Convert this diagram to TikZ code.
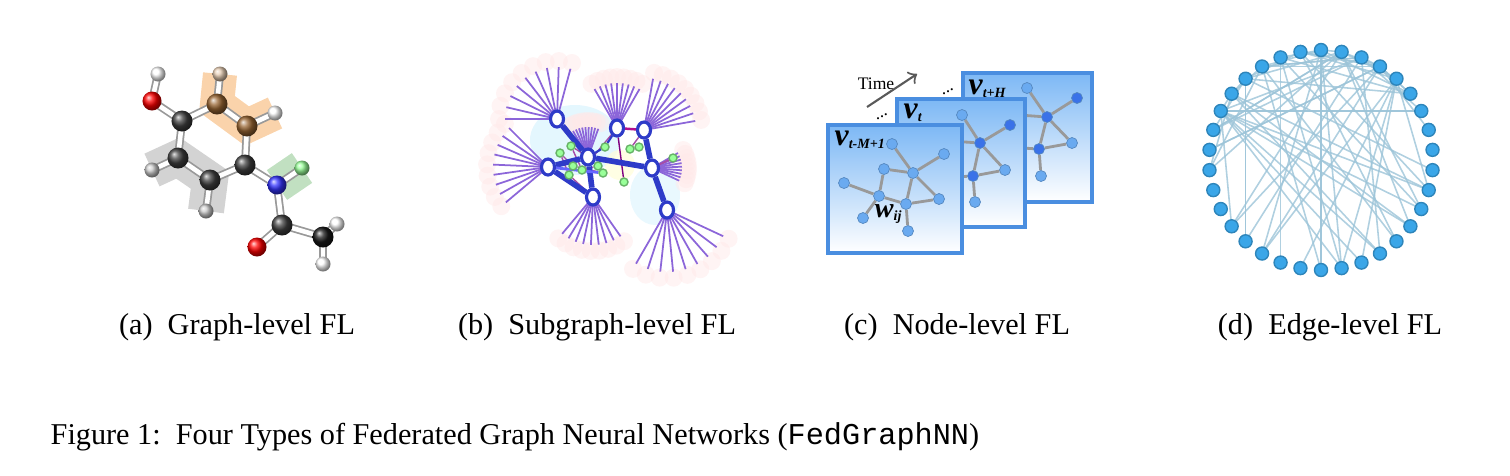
\documentclass[tikz,border=0pt]{standalone}
\usepackage{fontspec}
\setmainfont{Liberation Serif}
\setmonofont{Liberation Mono}
\usetikzlibrary{shapes.geometric, positioning, calc, backgrounds}

\definecolor{hubblue}{HTML}{2E3BC8}
\definecolor{framebl}{HTML}{4A8EE0}
\definecolor{frametop}{HTML}{7DB8F5}
\definecolor{gnode}{HTML}{6AAAF0}
\definecolor{gnodedk}{HTML}{3A72E8}
\definecolor{ringnode}{HTML}{3AA6E8}
\definecolor{ringedge}{HTML}{9CC4D8}

\tikzset{
  atom/.style={circle, inner sep=0pt, minimum size=0.21cm},
  carbon/.style={atom, ball color=black!75},
  hydro/.style={atom, minimum size=0.15cm, ball color=white},
  oxy/.style={atom, minimum size=0.19cm, ball color=red},
  nitro/.style={atom, minimum size=0.19cm, ball color=blue!80},
  brownatom/.style={atom, ball color=brown!80!black},
  bond/.style={double=white, double distance=1.3pt, draw=black!40, line width=0.5pt},
  hub/.style={ellipse, draw=hubblue, fill=white, line width=0.9pt, inner sep=0pt,
    minimum width=0.13cm, minimum height=0.16cm},
  gsmall/.style={circle, draw=green!50!black!60, fill=green!40, inner sep=0pt, minimum size=0.08cm},
  hubedge/.style={draw=hubblue, line width=1.6pt},
  spoke/.style={draw=blue!50!violet!60, line width=0.5pt},
  frame/.style={draw=framebl, line width=1pt, top color=frametop, bottom color=white},
  gn/.style={circle, fill=gnode, draw=gnode!80!black, line width=0.2pt, inner sep=0pt, minimum size=0.11cm},
  gnd/.style={gn, fill=gnodedk},
  gedge/.style={draw=gray!80, line width=0.8pt},
  rnode/.style={circle, fill=ringnode, draw=ringnode!80!black, line width=0.4pt, inner sep=0pt, minimum size=0.13cm},
  redge/.style={draw=ringedge, line width=0.45pt, opacity=0.8},
  subcap/.style={font=\fontsize{8.6}{10}\selectfont, inner sep=0pt}
}

\begin{document}
\begin{tikzpicture}[x=0.01cm, y=-0.01cm]
\useasboundingbox (0,0) rectangle (1510,475);

% (a) molecule
\node[hydro] (h1) at (158,74) {};
\node[oxy] (o1) at (152,101) {};
\node[carbon] (c1) at (182,121) {};
\node[brownatom] (b1) at (217,104) {};
\node[hydro, ball color=brown!40] (hb1) at (220,74) {};
\node[brownatom] (b2) at (247,126) {};
\node[hydro] (hb2) at (275,113) {};
\node[carbon] (c6) at (245,165) {};
\node[carbon] (c2) at (178,158) {};
\node[hydro, ball color=gray!40] (hl) at (152,170) {};
\node[carbon] (c3) at (210,180) {};
\node[hydro, ball color=gray!40] (hd) at (206,211) {};
\node[nitro] (n1) at (277,185) {};
\node[hydro, ball color=green!40] (hn) at (302,168) {};
\node[carbon] (c4) at (282,225) {};
\node[oxy] (o2) at (257,247) {};
\node[carbon, ball color=black!90] (c5) at (323,237) {};
\node[hydro] (h5a) at (337,224) {};
\node[hydro] (h5b) at (323,264) {};
\begin{scope}[on background layer]
  \begin{scope}[transparency group, opacity=0.35, line cap=round, line join=round]
    \draw[orange!80!brown, line width=0.34cm] (hb1.center) -- (b1.center) -- (b2.center) -- (hb2.center);
    \draw[gray, line width=0.36cm] (hl.center) -- (c2.center) -- (c3.center) -- (hd.center);
    \draw[green!50!black!70, line width=0.36cm] (n1.center) -- (hn.center);
  \end{scope}
  \foreach \u/\v in {h1/o1, o1/c1, c1/b1, b1/hb1, b1/b2, b2/hb2, b2/c6, c1/c2, c2/hl,
    c2/c3, c3/hd, c3/c6, c6/n1, n1/hn, n1/c4, c4/o2, c4/c5, c5/h5a, c5/h5b}
    \draw[bond] (\u.center) -- (\v.center);
\end{scope}

% (b) subgraph network
\node[hub] (s0) at (557,119) {};
\node[hub] (s1) at (548,167) {};
\node[hub] (s2) at (588,157) {};
\node[hub] (s3) at (593,197) {};
\node[hub] (s4) at (617,128) {};
\node[hub] (s5) at (644,130) {};
\node[hub] (s6) at (652,168) {};
\node[hub] (s7) at (667,210) {};
\foreach \x/\y [count=\i] in {560/153, 571/146, 573/166, 582/170, 569/175, 603/173,
    598/166, 605/147, 630/149, 639/147, 624/182, 673/158}
  \node[gsmall] (g\i) at (\x,\y) {};
\begin{scope}[on background layer]
  \fill[cyan!15, opacity=0.7] (575,140) ellipse (45 and 35);
  \fill[cyan!12, opacity=0.7] (655,195) ellipse (25 and 30);
  \fill[yellow!15, opacity=0.7] (620,165) ellipse (15 and 15);
  \foreach \h/\a/\b/\len in {s0/180/285/52, s1/140/225/55, s3/55/130/48, s4/240/300/45,
      s5/280/350/52, s6/-30/25/30, s7/25/120/62, s2/240/290/30} {
    \foreach \t in {0,...,8} {
      \pgfmathsetmacro\ang{\a+(\b-\a)*\t/8}
      \fill[pink!35, opacity=0.5] ($(\h.center)+(\ang:\len+6)$) circle (9);
    }
  }
  \foreach \h/\a/\b/\len in {s0/180/285/52, s1/140/225/55, s3/55/130/48, s4/240/300/45,
      s5/280/350/52, s6/-30/25/30, s7/25/120/62, s2/240/290/30} {
    \foreach \t in {0,...,8} {
      \pgfmathsetmacro\ang{\a+(\b-\a)*\t/8}
      \draw[spoke] (\h.center) -- ++(\ang:\len);
    }
  }
  \foreach \u/\v in {g1/g3, g2/g4, g1/g5, g3/g6, g4/g7, g2/s2, g5/s3, g9/g10, g9/s5, g4/s4}
    \draw[draw=violet!70, line width=0.4pt] (\u) -- (\v);
  \draw[draw=magenta!70!blue, line width=0.7pt] (s4) -- (s5);
  \draw[draw=violet, line width=0.4pt] (s4) -- (g11);
  \foreach \u/\v in {s0/s2, s1/s2, s1/s3, s2/s3, s2/s6, s5/s6, s6/s7}
    \draw[hubedge] (\u) -- (\v);
  \draw[draw=hubblue, line width=0.6pt] (s2) -- (g8) -- (s4);
  \draw[draw=blue!60, line width=0.8pt] (s1) -- (g6);
  \draw[draw=violet!70, line width=0.5pt] (s6) -- (g12);
\end{scope}

% (c) temporal node-level graphs
\draw[frame] (963,73) rectangle (1092,202);
\node[font=\itshape\bfseries\fontsize{9}{9}\selectfont, anchor=west, inner sep=0pt] (lb) at (968,89)
  {v\textsubscript{\fontsize{4}{4}\selectfont t+H}};
\node[gn] (k0) at (1027,88) {};
\node[gnd] (k1) at (1077,98) {};
\node[gnd] (k2) at (1047,117) {};
\node[gn] (k3) at (1072,143) {};
\node[gnd] (k4) at (1039,149) {};
\node[gn] (k5) at (1041,176) {};
\coordinate (k6) at (1005,114);
\coordinate (k7) at (1005,147);
\foreach \u/\v in {k0/k2, k1/k2, k2/k4, k2/k3, k4/k3, k4/k5, k6/k2, k7/k4}
  \draw[gedge] (\u) -- (\v);
\draw[frame] (897,99) rectangle (1025,227);
\node[font=\itshape\bfseries\fontsize{9}{9}\selectfont, anchor=west, inner sep=0pt] (lm) at (903,113)
  {v\textsubscript{\fontsize{4}{4}\selectfont t}};
\node[gn] (m0) at (962,115) {};
\node[gnd] (m1) at (1010,125) {};
\node[gnd] (m2) at (980,143) {};
\node[gn] (m3) at (1005,170) {};
\node[gnd] (m4) at (973,176) {};
\node[gn] (m5) at (975,202) {};
\coordinate (m6) at (935,140);
\coordinate (m7) at (935,178);
\foreach \u/\v in {m0/m2, m1/m2, m2/m4, m2/m3, m4/m3, m4/m5, m6/m2, m7/m4}
  \draw[gedge] (\u) -- (\v);
\draw[frame] (828,125) rectangle (962,253);
\node[font=\itshape\bfseries\fontsize{9}{9}\selectfont, anchor=west, inner sep=0pt] (lf) at (834,140)
  {v\textsubscript{\fontsize{4}{4}\selectfont t-M+1}};
\node[gn] (f0) at (892,144) {};
\node[gn] (f1) at (944,154) {};
\node[gn] (f2) at (884,169) {};
\node[gn] (f3) at (913,173) {};
\node[gn] (f4) at (844,183) {};
\node[gn] (f5) at (879,196) {};
\node[gn] (f6) at (906,204) {};
\node[gn] (f7) at (939,199) {};
\node[gn] (f8) at (863,218) {};
\node[gn] (f9) at (908,231) {};
\foreach \u/\v in {f0/f3, f1/f3, f2/f3, f2/f5, f4/f5, f5/f6, f3/f6, f3/f7, f7/f6, f8/f5, f6/f9}
  \draw[gedge] (\u) -- (\v);
\node[font=\itshape\bfseries\fontsize{8}{8}\selectfont, inner sep=0pt] (wij) at (889,214)
  {w\textsubscript{\fontsize{4}{4}\selectfont ij}};
\coordinate (ta) at (867,107);
\coordinate (tb) at (917,74);
\draw[->, gray!70!black, line width=0.6pt] (ta) -- (tb);
\node[font=\fontsize{5}{5}\selectfont, inner sep=0pt] (tm) at (876,84) {Time};
\node[font=\fontsize{5}{5}\selectfont, inner sep=0pt, rotate=30] (dt1) at (882,117) {...};
\node[font=\fontsize{5}{5}\selectfont, inner sep=0pt, rotate=30] (dt2) at (948,92) {...};

% (d) edge-level ring
\foreach \i in {0,...,33}
  \node[rnode] (d\i) at ($(1321,160)+({270+\i*360/34}:112 and 110)$) {};
\pgfmathsetseed{11}
\begin{scope}[on background layer]
  \foreach \k in {1,...,75} {
    \pgfmathtruncatemacro\a{mod(random(0,11)+28,34)}
    \pgfmathtruncatemacro\b{random(0,33)}
    \draw[redge] (d\a.center) -- (d\b.center);
  }
\end{scope}

% captions
\node[subcap] (capa) at (237,327) {(a)\enspace Graph-level FL};
\node[subcap] (capb) at (597,327) {(b)\enspace Subgraph-level FL};
\node[subcap] (capc) at (957,327) {(c)\enspace Node-level FL};
\node[subcap] (capd) at (1330,327) {(d)\enspace Edge-level FL};
\node[subcap, anchor=west] (fig) at (50,437)
  {Figure 1:\enspace Four Types of Federated Graph Neural Networks (\texttt{FedGraphNN})};
\end{tikzpicture}
\end{document}
